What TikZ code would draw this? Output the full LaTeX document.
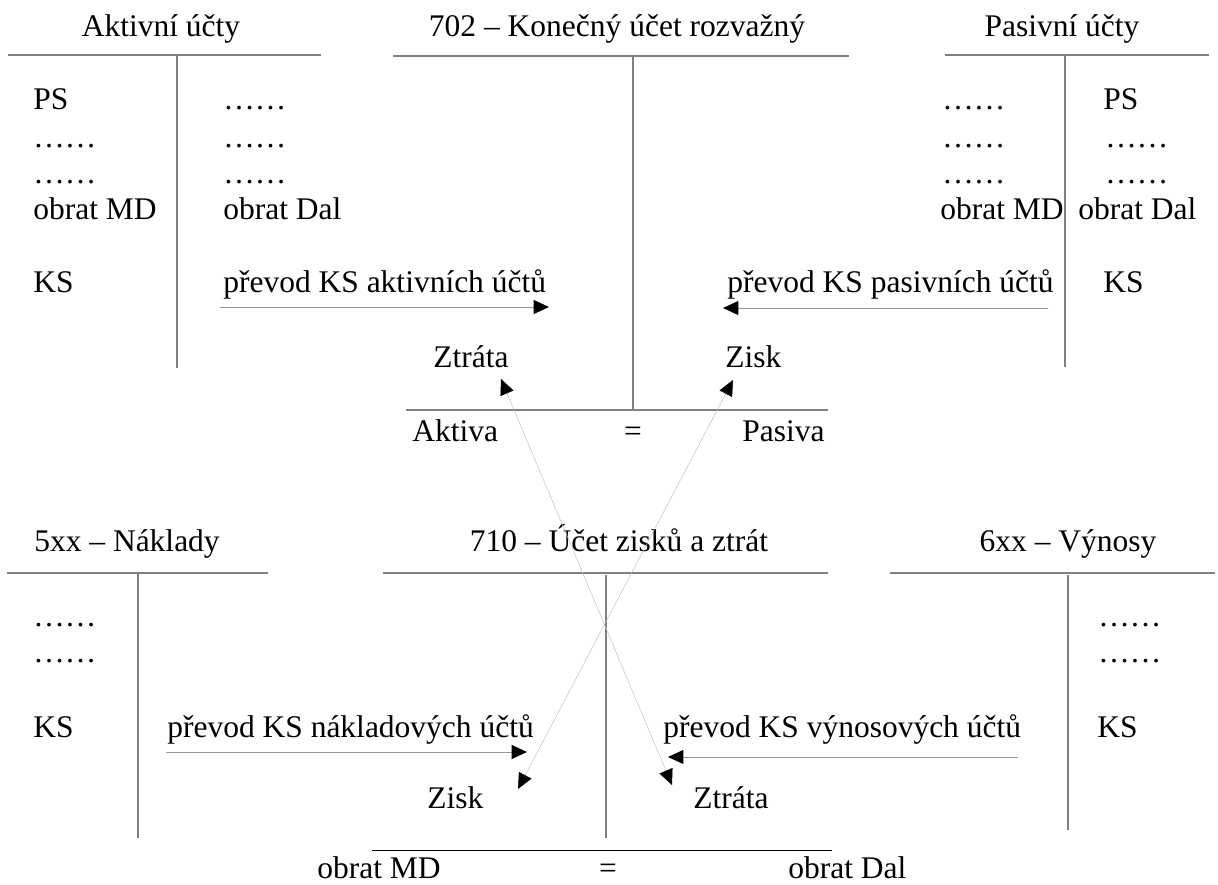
\documentclass[tikz,border=0pt]{standalone}
\usepackage{fontspec}
\setmainfont{Liberation Serif}
\usetikzlibrary{arrows.meta}

\begin{document}
\begin{tikzpicture}[x=0.025cm, y=-0.025cm, font=\fontsize{22.4}{27}\selectfont,
  acct/.style={draw=black!50, line width=0.9pt},
  lbl/.style={inner sep=0pt, anchor=base west},
  ttl/.style={inner sep=0pt, anchor=base},
  move/.style={draw=black!40, line width=0.7pt, -{Triangle[length=11pt, width=10pt, color=black]}},
  cross/.style={draw=black!25, line width=0.35pt, {Triangle[length=11pt, width=10pt, color=black]}-{Triangle[length=11pt, width=10pt, color=black]}}]

\useasboundingbox (0,0) rectangle (1218,885);

\draw[acct] (8,55) -- (321,55);
\draw[acct] (177,55) -- (177,368);
\draw[acct] (393,56) -- (849,56);
\draw[acct] (633,56) -- (633,410);
\draw[acct] (406,410) -- (828,410);
\draw[acct] (945,55) -- (1209,55);
\draw[acct] (1065,55) -- (1065,367);

\draw[acct] (7,573) -- (268,573);
\draw[acct] (138,573) -- (138,838);
\draw[acct] (383,573) -- (828,573);
\draw[acct] (606,575) -- (606,838);
\draw[thin] (372,850) -- (832,850);
\draw[acct] (890,573) -- (1215,573);
\draw[acct] (1068,575) -- (1068,830);

\node[ttl] (aktTitle) at (161,37) {Aktivní účty};
\node[ttl] (konTitle) at (617,37) {702 – Konečný účet rozvažný};
\node[ttl] (pasTitle) at (1062,37) {Pasivní účty};

\node[lbl] (aktPS) at (33,110) {PS};
\node[lbl] (aktDotsA) at (33,148) {……};
\node[lbl] (aktDotsB) at (33,184) {……};
\node[lbl] (aktMD) at (33,220) {obrat MD};
\node[lbl] (aktKS) at (33,293) {KS};
\node[lbl] (aktDotsC) at (223,110) {……};
\node[lbl] (aktDotsD) at (223,148) {……};
\node[lbl] (aktDotsE) at (223,184) {……};
\node[lbl] (aktDal) at (223,220) {obrat Dal};
\node[lbl] (aktMove) at (223,293) {převod KS aktivních účtů};

\node[lbl] (pasDotsA) at (942,110) {……};
\node[lbl] (pasDotsB) at (942,148) {……};
\node[lbl] (pasDotsC) at (942,184) {……};
\node[lbl] (pasMD) at (940,220) {obrat MD};
\node[lbl] (pasMove) at (727,293) {převod KS pasivních účtů};
\node[lbl] (pasPS) at (1103,110) {PS};
\node[lbl] (pasDotsD) at (1105,148) {……};
\node[lbl] (pasDotsE) at (1105,184) {……};
\node[lbl] (pasDal) at (1078,220) {obrat Dal};
\node[lbl] (pasKS) at (1103,293) {KS};

\node[lbl] (konZtrata) at (433,368) {Ztráta};
\node[lbl] (konZisk) at (725,368) {Zisk};
\node[lbl] (konAktiva) at (412,442) {Aktiva};
\node[ttl] (konEq) at (633,442) {=};
\node[lbl] (konPasiva) at (742,442) {Pasiva};

\node[ttl] (nakTitle) at (127,552) {5xx – Náklady};
\node[ttl] (vzzTitle) at (619,552) {710 – Účet zisků a ztrát};
\node[ttl] (vynTitle) at (1068,552) {6xx – Výnosy};

\node[lbl] (nakDotsA) at (33,626) {……};
\node[lbl] (nakDotsB) at (33,662) {……};
\node[lbl] (nakKS) at (33,737) {KS};
\node[lbl] (nakMove) at (167,737) {převod KS nákladových účtů};

\node[lbl] (vynMove) at (663,737) {převod KS výnosových účtů};
\node[lbl] (vynDotsA) at (1098,626) {……};
\node[lbl] (vynDotsB) at (1098,662) {……};
\node[lbl] (vynKS) at (1097,737) {KS};

\node[lbl] (vzzZisk) at (427,808) {Zisk};
\node[lbl] (vzzZtrata) at (693,808) {Ztráta};
\node[lbl] (vzzMD) at (317,878) {obrat MD};
\node[ttl] (vzzEq) at (608,878) {=};
\node[lbl] (vzzDal) at (788,878) {obrat Dal};

\coordinate (aktFrom) at (220,307);
\coordinate (aktTo) at (549,307);
\coordinate (pasFrom) at (1048,308);
\coordinate (pasTo) at (723,308);
\coordinate (nakFrom) at (166,752);
\coordinate (nakTo) at (527,752);
\coordinate (vynFrom) at (1018,757);
\coordinate (vynTo) at (668,757);

\draw[move] (aktFrom) -- (aktTo);
\draw[move] (pasFrom) -- (pasTo);
\draw[move] (nakFrom) -- (nakTo);
\draw[move] (vynFrom) -- (vynTo);

\coordinate (ztrUp) at (501,379);
\coordinate (ztrDown) at (672,785);
\coordinate (ziskUp) at (733,380);
\coordinate (ziskDown) at (518,789);

\draw[cross] (ztrUp) -- (ztrDown);
\draw[cross] (ziskUp) -- (ziskDown);

\end{tikzpicture}
\end{document}
